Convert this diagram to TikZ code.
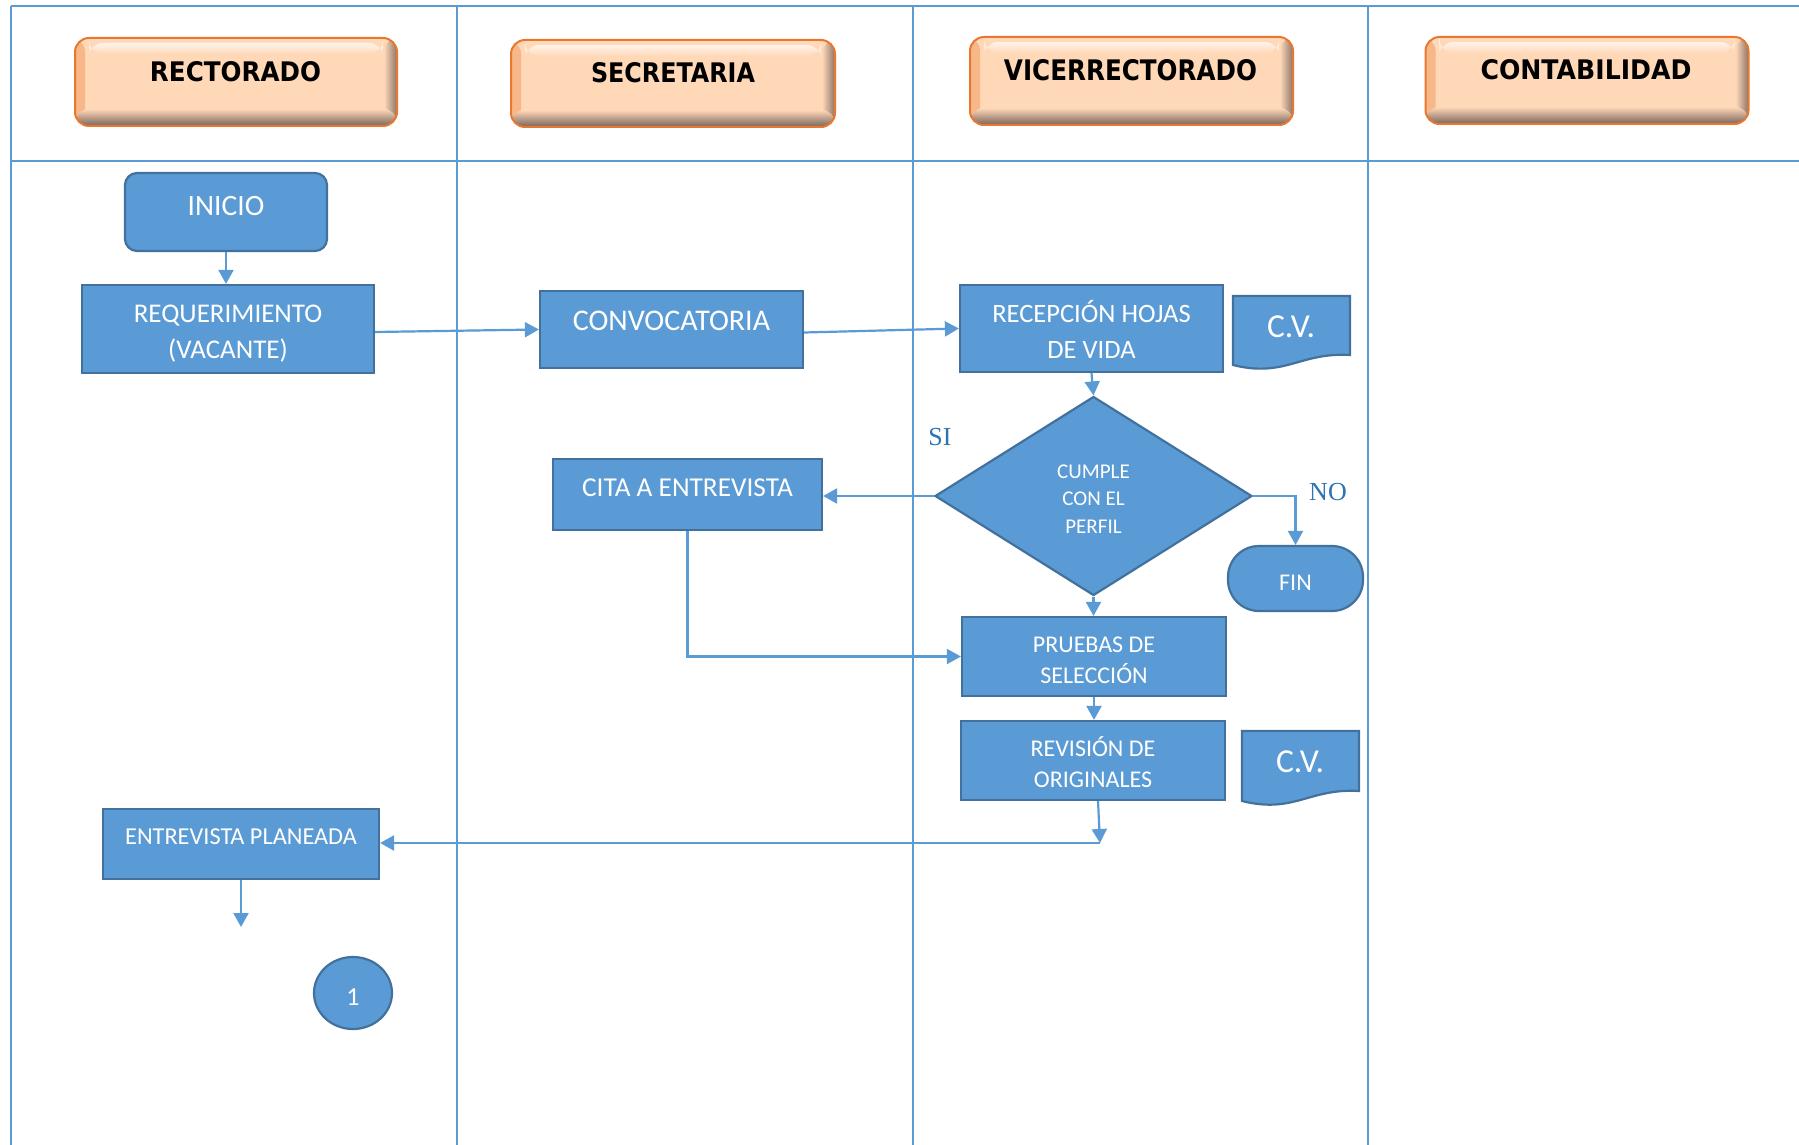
\documentclass[tikz,border=0pt]{standalone}
\usepackage{graphicx}
\usepackage{fontspec}
\setmainfont{Carlito}
\newfontfamily\hdrfont{DejaVu Sans}
\newfontfamily\yesnofont{Liberation Serif}
\usetikzlibrary{shapes.geometric,arrows.meta,calc}
\definecolor{lane}{HTML}{5B9BD5}
\definecolor{boxfill}{HTML}{5B9BD5}
\definecolor{boxline}{HTML}{41719C}
\definecolor{peach}{HTML}{FFD8B8}
\definecolor{btnorange}{HTML}{E8782F}
\definecolor{btnbrown}{HTML}{76625A}
\definecolor{sinoblue}{HTML}{2E74B5}
\newcommand\txtdown[2]{\raisebox{-#1}[\height][\depth]{\begin{tabular}{@{}c@{}}#2\end{tabular}}}
\tikzset{
  lanes/.style={draw=lane, line width=2.2pt},
  proc/.style={rectangle, draw=boxline, fill=boxfill, line width=2.2pt, text=white,
    inner sep=0pt, align=center, font=\fontsize{26}{36}\selectfont},
  conn/.style={draw=lane, line width=2.2pt, -{Triangle[length=14pt,width=15pt]}},
  docshape/.style={fill=boxfill, draw=boxline, line width=2.2pt},
  doctext/.style={text=white, inner sep=0pt, font=\fontsize{33.5}{38}\selectfont},
  yesno/.style={text=sinoblue, inner sep=0pt, font=\yesnofont\fontsize{26}{30}\selectfont},
  hdrtext/.style={inner sep=0pt, text=black},
  hdr/.style={rectangle, rounded corners=14pt, draw=btnorange, line width=2pt, fill=peach,
    inner sep=0pt,
    path picture={
      \fill[left color=btnorange!35!peach, right color=peach]
        (path picture bounding box.south west) rectangle ([xshift=10pt]path picture bounding box.north west);
      \fill[left color=peach, right color=btnbrown!85!peach]
        ([xshift=-13pt]path picture bounding box.south east) rectangle (path picture bounding box.north east);
      \fill[top color=peach, bottom color=btnbrown]
        (path picture bounding box.south west) rectangle ([yshift=17pt]path picture bounding box.south east);
      \fill[top color=white!70!peach, bottom color=peach]
        ([xshift=14pt,yshift=-5pt]path picture bounding box.north west) rectangle ([xshift=-14pt,yshift=-16pt]path picture bounding box.north east);
    }}
}
\begin{document}
\begin{tikzpicture}[x=1pt,y=-1pt]
\useasboundingbox (0,0) rectangle (1799,1145);
\fill[white] (0,0) rectangle (1799,1145);

% swimlane grid
\draw[lanes] (11,6) -- (1799,6);
\draw[lanes] (11,161) -- (1799,161);
\draw[lanes] (11,6) -- (11,1145);
\draw[lanes] (457,6) -- (457,1145);
\draw[lanes] (913,6) -- (913,1145);
\draw[lanes] (1368,6) -- (1368,1145);

% header buttons
\node[hdr, minimum width=322pt, minimum height=88pt] (b1) at (236,82) {};
\node[hdr, minimum width=324pt, minimum height=87pt] (b2) at (673,83.5) {};
\node[hdr, minimum width=323pt, minimum height=88pt] (b3) at (1131.5,81) {};
\node[hdr, minimum width=323pt, minimum height=87pt] (b4) at (1587,80.5) {};
\node[hdrtext] (t1) at (235.5,72) {\resizebox{171pt}{20pt}{\hdrfont\bfseries RECTORADO}};
\node[hdrtext] (t2) at (673,73) {\resizebox{164pt}{20pt}{\hdrfont\bfseries SECRETARIA}};
\node[hdrtext] (t3) at (1130.5,70.5) {\resizebox{253pt}{21pt}{\hdrfont\bfseries VICERRECTORADO}};
\node[hdrtext] (t4) at (1586,70) {\resizebox{211pt}{20pt}{\hdrfont\bfseries CONTABILIDAD}};

% process nodes
\node[proc, rounded corners=12pt, minimum width=202pt, minimum height=78pt,
  font=\fontsize{29.5}{34}\selectfont, text height=19pt, text depth=12pt] (inicio) at (226,212) {INICIO};
\node[proc, minimum width=292pt, minimum height=88pt, font=\fontsize{27}{36}\selectfont] (req) at (228,329)
  {\txtdown{4.5pt}{REQUERIMIENTO\\(VACANTE)}};
\node[proc, minimum width=263pt, minimum height=77pt, font=\fontsize{30}{36}\selectfont,
  text height=19.3pt, text depth=17pt] (conv) at (671.5,329.5) {CONVOCATORIA};
\node[proc, minimum width=263pt, minimum height=87pt, font=\fontsize{26.5}{36}\selectfont] (recep) at (1091.5,328.5)
  {\txtdown{5pt}{RECEPCIÓN HOJAS\\DE VIDA}};
\node[diamond, draw=boxline, fill=boxfill, line width=2.2pt, text=white, inner sep=0pt, align=center,
  minimum width=317pt, minimum height=199pt, aspect=1.6, font=\fontsize{21}{27.5}\selectfont] (dia) at (1093.5,496)
  {\txtdown{4pt}{CUMPLE\\CON EL\\PERFIL}};
\node[proc, rounded corners=31pt, minimum width=135pt, minimum height=65pt,
  font=\fontsize{24}{28}\selectfont, text height=24.6pt, text depth=0pt] (fin) at (1295.5,578.5) {FIN};
\node[proc, minimum width=269pt, minimum height=71pt, font=\fontsize{27.3}{32}\selectfont,
  text height=17.6pt, text depth=13pt] (cita) at (687.5,494.5) {CITA A ENTREVISTA};
\node[proc, minimum width=264pt, minimum height=79pt, font=\fontsize{24}{31}\selectfont] (prue) at (1094,656.5)
  {\txtdown{5pt}{PRUEBAS DE\\SELECCIÓN}};
\node[proc, minimum width=264pt, minimum height=79pt, font=\fontsize{24}{31}\selectfont] (rev) at (1093,760.5)
  {\txtdown{5.5pt}{REVISIÓN DE\\ORIGINALES}};
\node[proc, minimum width=276pt, minimum height=70pt, font=\fontsize{24.3}{28}\selectfont,
  text height=15.6pt, text depth=14pt] (plan) at (241,844) {ENTREVISTA PLANEADA};
\node[ellipse, draw=boxline, fill=boxfill, line width=2.2pt, text=white, inner sep=0pt,
  minimum width=78pt, minimum height=72pt, font=\fontsize{26}{30}\selectfont,
  text height=25.6pt, text depth=0pt] (one) at (353,993) {1};

% documents
\draw[docshape] (1233,296) -- (1350,296) -- (1350,355) .. controls (1300,352) and (1285,378) .. (1233,365) -- cycle;
\node[doctext] (cv1) at (1291,327) {C.V.};
\draw[docshape] (1242,731) -- (1359,731) -- (1359,791) .. controls (1309,788) and (1294,814) .. (1242,801) -- cycle;
\node[doctext] (cv2) at (1300,762) {C.V.};

% labels
\node[yesno] (si) at (940,437) {SI};
\node[yesno] (no) at (1328,492) {NO};

% connectors
\draw[conn] (inicio.south) -- (inicio.south |- req.north);
\draw[conn] ([yshift=-3pt]req.east) -- (conv.west);
\draw[conn] ([yshift=-3pt]conv.east) -- (recep.west);
\draw[conn] (recep.south) -- (dia.north);
\draw[conn] (dia.west) -- (cita.east |- dia.west);
\draw[conn] (dia.east) -| (fin.north);
\draw[conn] (dia.south) -- (dia.south |- prue.north);
\draw[conn] (cita.south) |- (prue.west);
\draw[conn] (prue.south) -- (prue.south |- rev.north);
\coordinate (k) at (1100,843);
\draw[conn] ([xshift=5pt]rev.south) -- (k);
\draw[conn] (k) -- (plan.east |- k);
\coordinate (e) at (239,927);
\draw[conn] (plan.south) -- (plan.south |- e);
\end{tikzpicture}
\end{document}
